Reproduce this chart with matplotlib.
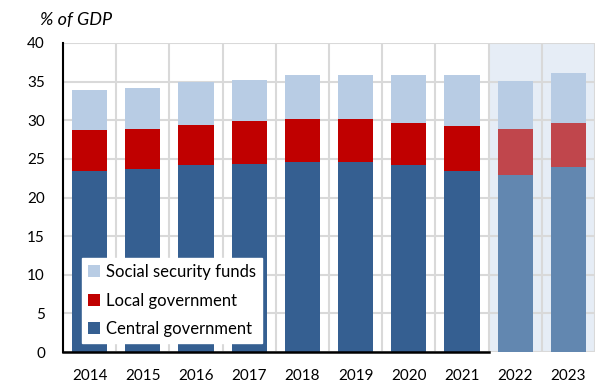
import matplotlib
matplotlib.use("Agg")
import matplotlib.pyplot as plt
from matplotlib.patches import Rectangle
import numpy as np

years = ["2014", "2015", "2016", "2017", "2018", "2019", "2020", "2021", "2022", "2023"]
central = [23.4, 23.7, 24.2, 24.4, 24.6, 24.6, 24.2, 23.4, 22.9, 23.9]
local = [5.3, 5.2, 5.2, 5.5, 5.5, 5.5, 5.5, 5.8, 6.0, 5.8]
social = [5.2, 5.3, 5.5, 5.3, 5.8, 5.8, 6.2, 6.7, 6.2, 6.4]
n_forecast = 2

plt.rcParams['font.family'] = ['Lato', 'DejaVu Sans']

fig = plt.figure(figsize=(5.97, 3.85), dpi=100)
ax = fig.add_axes([63/597, 1-352/385, (595-63)/597, (352-43)/385])

x = np.arange(len(years))
nf = len(years) - n_forecast
c_cols = ["#355F91"] * nf + ["#6287B0"] * n_forecast
l_cols = ["#C00000"] * nf + ["#C0464C"] * n_forecast
s_cols = ["#B8CCE4"] * nf + ["#B8CCE4"] * n_forecast

w = 0.66
central = np.array(central); local = np.array(local); social = np.array(social)

ax.add_patch(Rectangle((nf - 0.5, 0), n_forecast, 40, facecolor="#E6EDF6",
                       edgecolor="#D0D7E0", linewidth=1.2, zorder=0.5))

ax.bar(x, central, w, color=c_cols, zorder=3, label="Central government")
ax.bar(x, local, w, bottom=central, color=l_cols, zorder=3, label="Local government")
ax.bar(x, social, w, bottom=central + local, color=s_cols, zorder=3, label="Social security funds")

ax.set_xlim(-0.5, len(years) - 0.5)
ax.set_ylim(0, 40)
ax.set_yticks(range(0, 41, 5))
ax.set_xticks(x)
ax.set_xticklabels(years)
ax.set_xticks(np.arange(-0.5, len(years), 1), minor=True)
ax.grid(axis='y', color="#D9D9D9", linewidth=1.5, zorder=1)
ax.grid(axis='x', which='minor', color="#D9D9D9", linewidth=1.5, zorder=1)
ax.tick_params(axis='both', length=0, labelsize=11)
ax.tick_params(axis='y', pad=13)
ax.tick_params(axis='x', pad=12)
ax.tick_params(which='minor', length=0)
for s in ['top', 'right', 'bottom']:
    ax.spines[s].set_visible(False)
ax.spines['left'].set_color('black')
ax.spines['left'].set_linewidth(1.5)
ax.plot([-0.5, nf - 0.5], [0, 0], color='black', lw=1.8, zorder=4, clip_on=False)

handles, labels = ax.get_legend_handles_labels()
leg = ax.legend(handles[::-1], labels[::-1], loc='lower left', bbox_to_anchor=(0.036, 0.029),
                frameon=True, fontsize=12, handlelength=0.75, handleheight=0.75,
                handletextpad=0.35, labelspacing=0.75, borderpad=0.35, borderaxespad=0,
                fancybox=False)
leg.get_frame().set_edgecolor('white')
leg.get_frame().set_facecolor('white')
leg.get_frame().set_alpha(1)
leg.set_zorder(5)

fig.text(40/597, 1-20/385, "% of GDP", fontsize=13, style='italic', va='center', ha='left')

fig.savefig("out.png", dpi=100)
